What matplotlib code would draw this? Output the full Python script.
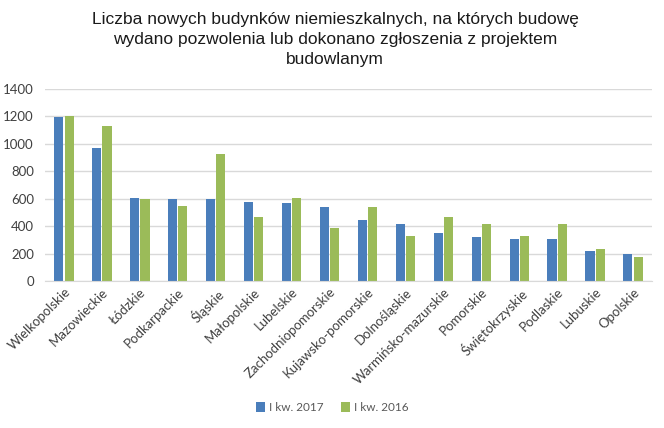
import numpy as np
import matplotlib.pyplot as plt

regiony = ['Wielkopolskie', 'Mazowieckie', 'Łódzkie', 'Podkarpackie', 'Śląskie',
           'Małopolskie', 'Lubelskie', 'Zachodniopomorskie', 'Kujawsko-pomorskie',
           'Dolnośląskie', 'Warmińsko-mazurskie', 'Pomorskie', 'Świętokrzyskie',
           'Podlaskie', 'Lubuskie', 'Opolskie']
kw_2017 = [1198, 970, 605, 598, 598, 578, 566, 541, 448, 416, 351, 319, 304, 304, 219, 195]
kw_2016 = [1205, 1133, 598, 548, 925, 467, 604, 390, 540, 331, 467, 416, 331, 416, 231, 175]

plt.rcParams['font.family'] = ['Lato', 'DejaVu Sans']

fig = plt.figure(figsize=(6.64, 4.28), dpi=100)
ax = fig.add_axes([45/664, 1 - 281/428, 607/664, 192/428])

x = np.arange(len(regiony))
w = 0.24
ax.bar(x - w/2 - 0.015, kw_2017, w, color='#4a7ebb', label='I kw. 2017')
ax.bar(x + w/2 + 0.015, kw_2016, w, color='#9bbb59', label='I kw. 2016')

ax.set_xlim(-0.5, len(regiony) - 0.5)
ax.set_ylim(0, 1400)
ax.set_yticks(range(0, 1401, 200))
ax.grid(axis='y', color='#d9d9d9', linewidth=1)
ax.set_axisbelow(True)
for s in ['top', 'right', 'left']:
    ax.spines[s].set_visible(False)
ax.spines['bottom'].set_color('#d9d9d9')
ax.tick_params(axis='y', length=0, labelsize=9.5, colors='#404040', pad=8)
ax.tick_params(axis='x', length=0, labelsize=9.5, colors='#404040')
ax.set_xticks(x)
ax.set_xticklabels(regiony, rotation=45, ha='right', rotation_mode='anchor')

fig.suptitle('Liczba nowych budynków niemieszkalnych, na których budowę\n'
             'wydano pozwolenia lub dokonano zgłoszenia z projektem\nbudowlanym',
             x=0.505, y=0.972, fontsize=12.5, color='#1a1a1a', linespacing=1.4,
             family=['Liberation Sans', 'DejaVu Sans'])

fig.legend(loc='lower center', bbox_to_anchor=(0.5, 0.01), ncol=2, frameon=False,
           fontsize=8.5, handlelength=0.8, handleheight=0.8, handletextpad=0.3,
           columnspacing=1.5, labelcolor='#595959')

fig.savefig('out.png', dpi=100)
